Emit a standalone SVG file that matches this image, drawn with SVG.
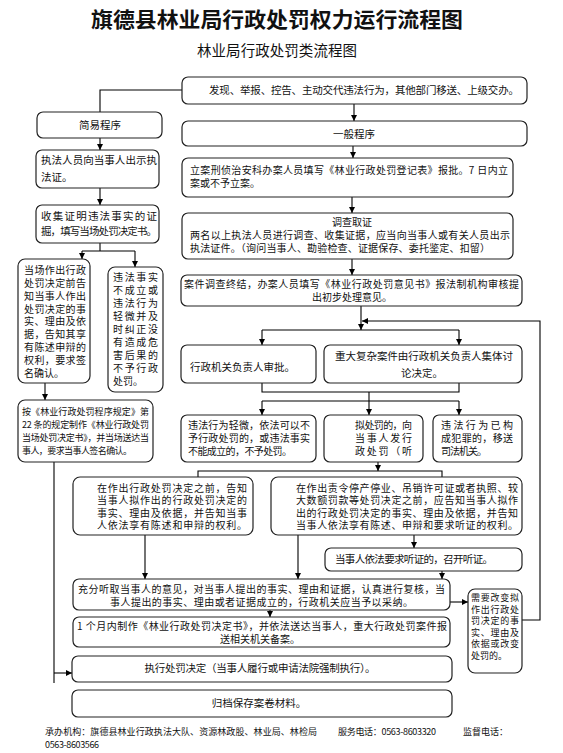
<svg xmlns="http://www.w3.org/2000/svg" width="563" height="753" viewBox="0 0 563 753">
<style>
.bx{fill:#fff;stroke:#222;stroke-width:1.2}
.t{font-family:"Noto Sans CJK SC","Liberation Sans",sans-serif;font-size:10.5px;fill:#111}
.s{font-size:10px}
.xs{font-size:9px}
.m{text-anchor:middle}
.c{fill:none;stroke:#000;stroke-width:1.1}
.a{marker-end:url(#ah)}
</style>
<defs>
<marker id="ah" markerUnits="userSpaceOnUse" markerWidth="7" markerHeight="7" refX="6" refY="3" orient="auto"><path d="M0,0 L6,3 L0,6 z" fill="#000"/></marker>
</defs>
<rect width="563" height="753" fill="#fff"/>
<text class="t m" x="277" y="27" style="font-size:21px;font-weight:bold" textLength="372" lengthAdjust="spacingAndGlyphs">旗德县林业局行政处罚权力运行流程图</text>
<text class="t m" x="277" y="56" style="font-size:14.5px" textLength="160">林业局行政处罚类流程图</text>

<g id="connectors">
<polyline class="c" points="182,90 100,90 100,112"/>
<line class="c a" x1="354" y1="104" x2="354" y2="121"/>
<line class="c a" x1="100" y1="138" x2="100" y2="150"/>
<line class="c a" x1="100" y1="188" x2="100" y2="205"/>
<line class="c" x1="100" y1="243" x2="100" y2="251"/>
<line class="c" x1="82" y1="251" x2="135" y2="251"/>
<line class="c a" x1="82" y1="251" x2="82" y2="259"/>
<line class="c a" x1="135" y1="251" x2="135" y2="267"/>
<line class="c a" x1="45" y1="383" x2="45" y2="400"/>
<line class="c" x1="54" y1="462" x2="54" y2="683"/>
<line class="c a" x1="54" y1="673" x2="72" y2="673"/>
<line class="c a" x1="353" y1="146" x2="353" y2="158"/>
<line class="c a" x1="352" y1="197" x2="352" y2="213"/>
<line class="c a" x1="352" y1="259" x2="352" y2="275"/>
<line class="c a" x1="361" y1="306" x2="361" y2="330"/>
<polyline class="c a" points="522,620 540,620 540,321 362,321"/>
<line class="c" x1="262" y1="330" x2="459" y2="330"/>
<line class="c a" x1="262" y1="330" x2="262" y2="345"/>
<line class="c a" x1="459" y1="330" x2="459" y2="345"/>
<polyline class="c" points="262,383 262,392 459,392 459,383"/>
<line class="c" x1="369" y1="392" x2="369" y2="401"/>
<line class="c" x1="262" y1="401" x2="459" y2="401"/>
<line class="c a" x1="262" y1="401" x2="262" y2="415"/>
<line class="c a" x1="369" y1="401" x2="369" y2="415"/>
<line class="c a" x1="459" y1="401" x2="459" y2="415"/>
<line class="c a" x1="378" y1="462" x2="378" y2="471"/>
<polyline class="c" points="198,477 198,471 442,471 442,477"/>
<line class="c a" x1="145" y1="535" x2="145" y2="579"/>
<line class="c a" x1="298" y1="535" x2="298" y2="579"/>
<line class="c a" x1="414" y1="535" x2="414" y2="548"/>
<line class="c a" x1="442" y1="571" x2="442" y2="579"/>
<line class="c a" x1="450" y1="602" x2="468" y2="602"/>
<line class="c a" x1="270" y1="610" x2="270" y2="617"/>
<line class="c a" x1="270" y1="632" x2="270" y2="644"/>
</g>

<g id="n_top"><rect class="bx" x="182" y="77" width="345" height="27" rx="6"/>
<text class="t" x="209" y="94" textLength="310">发现、举报、控告、主动交代违法行为，其他部门移送、上级交办。</text></g>

<g id="n_simple"><rect class="bx" x="37" y="112" width="125" height="26" rx="6"/>
<text class="t m" x="100" y="129">简易程序</text></g>

<g id="n_general"><rect class="bx" x="182" y="121" width="345" height="25" rx="6"/>
<text class="t m" x="354" y="138">一般程序</text></g>

<g id="n_show"><rect class="bx" x="36" y="150" width="123" height="38" rx="6"/>
<text class="t" x="41" y="164" textLength="116">执法人员向当事人出示执</text>
<text class="t" x="41" y="181">法证。</text></g>

<g id="n_collect"><rect class="bx" x="36" y="205" width="123" height="38" rx="6"/>
<text class="t" x="41" y="220" textLength="116">收集证明违法事实的证</text>
<text class="t" x="41" y="235" textLength="116">掘，填写当场处罚决定书。</text></g>

<g id="n_onsite"><rect class="bx" x="18" y="259" width="72" height="124" rx="7"/>
<text class="t s" x="24" y="274" textLength="62">当场作出行政</text>
<text class="t s" x="24" y="287" textLength="62">处罚决定前告</text>
<text class="t s" x="24" y="300" textLength="62">知当事人作出</text>
<text class="t s" x="24" y="312.5" textLength="62">处罚决定的事</text>
<text class="t s" x="24" y="325" textLength="62">实、理由及依</text>
<text class="t s" x="24" y="338" textLength="62">据，告知其享</text>
<text class="t s" x="24" y="351" textLength="62">有陈述申辩的</text>
<text class="t s" x="24" y="364" textLength="62">权利，要求签</text>
<text class="t s" x="24" y="377">名确认。</text></g>

<g id="n_nopenalty"><rect class="bx" x="108" y="267" width="55" height="125" rx="7"/>
<text class="t s" x="113" y="281" textLength="45">违法事实</text>
<text class="t s" x="113" y="294" textLength="45">不成立或</text>
<text class="t s" x="113" y="307" textLength="45">违法行为</text>
<text class="t s" x="113" y="320" textLength="45">轻微并及</text>
<text class="t s" x="113" y="333" textLength="45">时纠正没</text>
<text class="t s" x="113" y="346" textLength="45">有造成危</text>
<text class="t s" x="113" y="359" textLength="45">害后果的</text>
<text class="t s" x="113" y="372" textLength="45">不予行政</text>
<text class="t s" x="113" y="385">处罚。</text></g>

<g id="n_ruling"><rect class="bx" x="18" y="400" width="135" height="62" rx="7"/>
<text class="t xs" x="22" y="415" textLength="127">按《林业行政处罚程序规定》第</text>
<text class="t xs" x="22" y="428" textLength="127">22 条的规定制作《林业行政处罚</text>
<text class="t xs" x="22" y="441" textLength="127">当场处罚决定书》，并当场送达当</text>
<text class="t xs" x="22" y="454" textLength="110">事人，要求当事人签名确认。</text></g>

<g id="n_file"><rect class="bx" x="182" y="158" width="331" height="39" rx="6"/>
<text class="t s" x="190" y="174" textLength="318">立案刑侦治安科办案人员填写《林业行政处罚登记表》报批。7 日内立</text>
<text class="t s" x="190" y="187">案或不予立案。</text></g>

<g id="n_investigate"><rect class="bx" x="182" y="213" width="331" height="46" rx="6"/>
<text class="t s m" x="352" y="226">调查取证</text>
<text class="t s" x="190" y="239" textLength="320">两名以上执法人员进行调查、收集证据，应当向当事人或有关人员出示</text>
<text class="t s" x="190" y="252" textLength="300">执法证件。（询问当事人、勘验检查、证据保存、委托鉴定、扣留）</text></g>

<g id="n_conclude"><rect class="bx" x="181" y="275" width="341" height="31" rx="6"/>
<text class="t s" x="184" y="288" textLength="335">案件调查终结，办案人员填写《林业行政处罚意见书》报法制机构审核提</text>
<text class="t s m" x="352" y="301">出初步处理意见。</text></g>

<g id="n_approve"><rect class="bx" x="181" y="345" width="135" height="38" rx="6"/>
<text class="t" x="190" y="371">行政机关负责人审批。</text></g>

<g id="n_major"><rect class="bx" x="324" y="345" width="198" height="38" rx="6"/>
<text class="t" x="335" y="360" textLength="178">重大复杂案件由行政机关负责人集体讨</text>
<text class="t m" x="422" y="377">论决定。</text></g>

<g id="n_minor"><rect class="bx" x="181" y="415" width="135" height="47" rx="6"/>
<text class="t s" x="188" y="429" textLength="122">违法行为轻微，依法可以不</text>
<text class="t s" x="188" y="442" textLength="122">予行政处罚的，或违法事实</text>
<text class="t s" x="188" y="455" textLength="104">不能成立的，不予处罚。</text></g>

<g id="n_propose"><rect class="bx" x="324" y="415" width="99" height="47" rx="6"/>
<text class="t s" x="355" y="429" textLength="57">拟处罚的，向</text>
<text class="t s" x="355" y="442" textLength="57">当事人发行</text>
<text class="t s" x="355" y="455" textLength="57">政处罚（听</text></g>

<g id="n_crime"><rect class="bx" x="433" y="415" width="89" height="47" rx="6"/>
<text class="t s" x="441" y="429" textLength="72">违法行为已构</text>
<text class="t s" x="441" y="442" textLength="72">成犯罪的，移送</text>
<text class="t s" x="441" y="455" textLength="46">司法机关。</text></g>

<g id="n_notify"><rect class="bx" x="73" y="477" width="180" height="58" rx="7"/>
<text class="t s" x="97" y="491.5" textLength="150">在作出行政处罚决定之前，告知</text>
<text class="t s" x="97" y="504" textLength="150">当事人拟作出的行政处罚决定的</text>
<text class="t s" x="97" y="516.5" textLength="150">事实、理由及依据，并告知当事</text>
<text class="t s" x="97" y="529" textLength="150">人依法享有陈述和申辩的权利。</text></g>

<g id="n_notify2"><rect class="bx" x="271" y="477" width="251" height="58" rx="7"/>
<text class="t s" x="296" y="491.5" textLength="222">在作出责令停产停业、吊销许可证或者执照、较</text>
<text class="t s" x="296" y="504" textLength="222">大数额罚款等处罚决定之前，应告知当事人拟作</text>
<text class="t s" x="296" y="516.5" textLength="222">出的行政处罚决定的事实、理由及依据，并告知</text>
<text class="t s" x="296" y="529" textLength="222">当事人依法享有陈述、申辩和要求听证的权利。</text></g>

<g id="n_hearing"><rect class="bx" x="325" y="548" width="197" height="23" rx="6"/>
<text class="t" x="335" y="563" textLength="158">当事人依法要求听证的，召开听证。</text></g>

<g id="n_review"><rect class="bx" x="73" y="579" width="377" height="31" rx="6"/>
<text class="t s" x="78" y="592.5" textLength="367">充分听取当事人的意见，对当事人提出的事实、理由和证据，认真进行复核，当</text>
<text class="t s" x="110" y="605.5" textLength="303">事人提出的事实、理由或者证据成立的，行政机关应当予以采纳。</text></g>

<g id="n_decision"><rect class="bx" x="73" y="617" width="377" height="30" rx="6"/>
<text class="t s" x="77" y="629.5" textLength="370">1 个月内制作《林业行政处罚决定书》，并依法送达当事人，重大行政处罚案件报</text>
<text class="t s" x="220" y="642.5">送相关机关备案。</text></g>

<g id="n_change"><rect class="bx" x="468" y="589" width="54" height="84" rx="7"/>
<text class="t xs" x="471" y="601" textLength="48">需要改变拟</text>
<text class="t xs" x="471" y="612.5" textLength="48">作出行政处</text>
<text class="t xs" x="471" y="624" textLength="48">罚决定的事</text>
<text class="t xs" x="471" y="635.5" textLength="48">实、理由及</text>
<text class="t xs" x="471" y="647" textLength="48">依据或改变</text>
<text class="t xs" x="471" y="658.5">处罚的。</text></g>

<g id="n_execute"><rect class="bx" x="72" y="656" width="380" height="26" rx="6"/>
<text class="t m" x="260" y="672" textLength="231">执行处罚决定（当事人履行或申请法院强制执行）。</text></g>

<g id="n_archive"><rect class="bx" x="72" y="690" width="380" height="27" rx="6"/>
<text class="t m" x="259" y="707">归档保存案卷材料。</text></g>

<g id="footer">
<text class="t xs" x="45" y="735" textLength="272">承办机构：旗德县林业行政执法大队、资源林政股、林业局、林检局</text>
<text class="t xs" x="338" y="735" textLength="98">服务电话：0563-8603320</text>
<text class="t xs" x="463" y="735">监督电话：</text>
<text class="t xs" x="45" y="748" textLength="54">0563-8603566</text>
</g>
</svg>
